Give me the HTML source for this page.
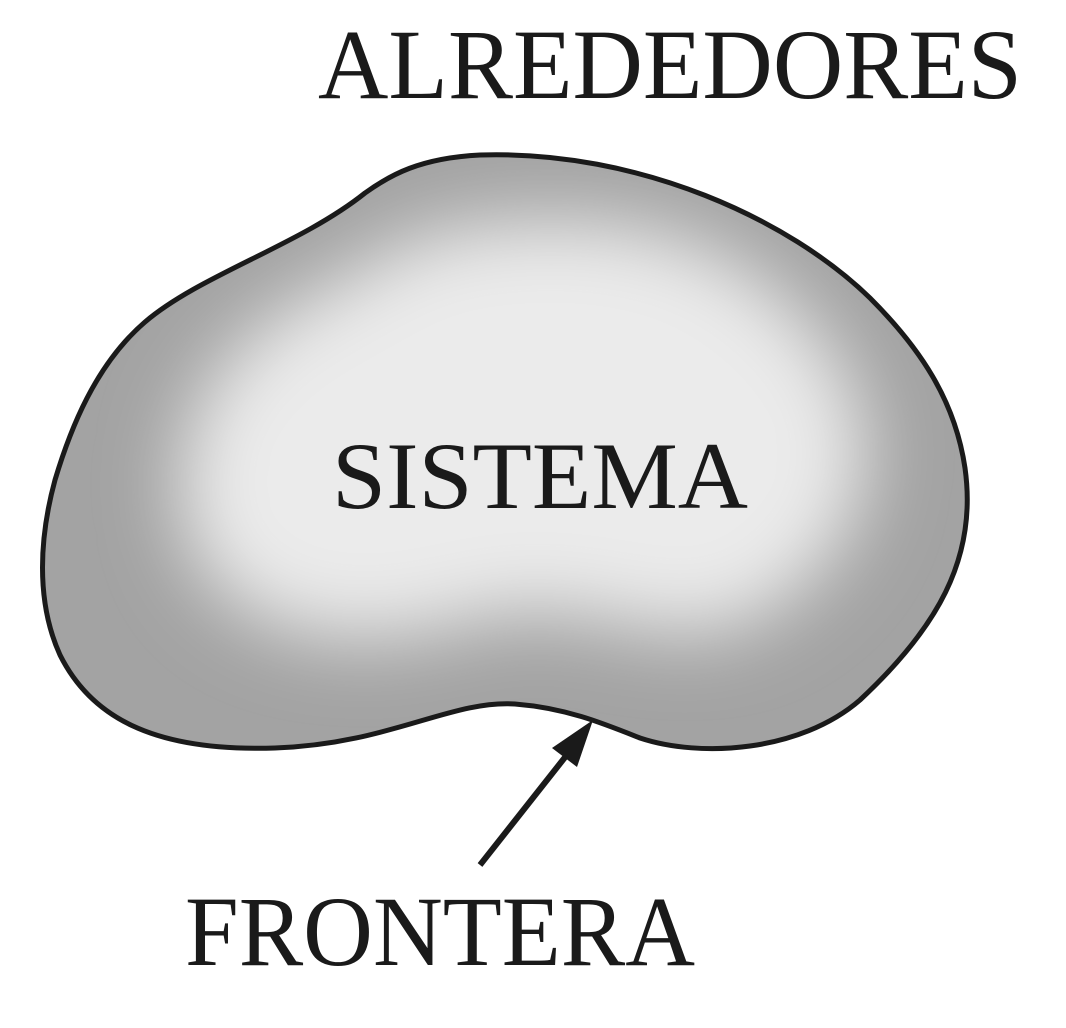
<!DOCTYPE html>
<html><head><meta charset="utf-8"><style>html,body{margin:0;padding:0;background:#fff}svg{display:block}svg text{font-family:"Liberation Serif","Times New Roman",serif}</style></head>
<body>
<svg width="1066" height="1028" viewBox="0 0 1066 1028" xmlns="http://www.w3.org/2000/svg">
<defs>
<clipPath id="c"><path d="M480 155 C420 158 390 175 365 193 C300 245 200 275 145 322 C95 365 70 430 55 480 C40 535 35 600 60 655 C90 715 150 752 275 748 C390 744 450 700 515 704 C565 708 600 722 640 738 C700 758 800 752 860 700 C935 630 978 560 965 468 C955 400 920 348 870 298 C790 220 640 150 480 155 Z"/></clipPath>
<filter id="f" x="-50%" y="-50%" width="200%" height="200%"><feGaussianBlur stdDeviation="38"/></filter>
</defs>
<g clip-path="url(#c)">
<rect x="0" y="0" width="1066" height="1028" fill="#a3a3a3"/>
<path filter="url(#f)" fill="#ebebeb" d="M470 225 C400 235 370 265 320 290 C230 335 185 400 180 475 C175 555 225 620 320 635 C420 650 470 610 540 612 C620 615 690 655 760 615 C850 565 880 480 860 410 C840 345 780 280 700 245 C620 215 550 215 470 225 Z"/>
</g>
<path d="M480 155 C420 158 390 175 365 193 C300 245 200 275 145 322 C95 365 70 430 55 480 C40 535 35 600 60 655 C90 715 150 752 275 748 C390 744 450 700 515 704 C565 708 600 722 640 738 C700 758 800 752 860 700 C935 630 978 560 965 468 C955 400 920 348 870 298 C790 220 640 150 480 155 Z" fill="none" stroke="#1a1a1a" stroke-width="5"/>
<line x1="480" y1="865" x2="566" y2="756" stroke="#1a1a1a" stroke-width="6"/>
<polygon points="593,720 552,748 577,767" fill="#1a1a1a"/>
<g fill="#1a1a1a">
<text x="318" y="98" font-size="100" textLength="704" lengthAdjust="spacingAndGlyphs">ALREDEDORES</text>
<text x="332" y="508" font-size="95" textLength="416" lengthAdjust="spacingAndGlyphs">SISTEMA</text>
<text x="185" y="965" font-size="100" textLength="510" lengthAdjust="spacingAndGlyphs">FRONTERA</text>
</g>
</svg>
</body></html>
